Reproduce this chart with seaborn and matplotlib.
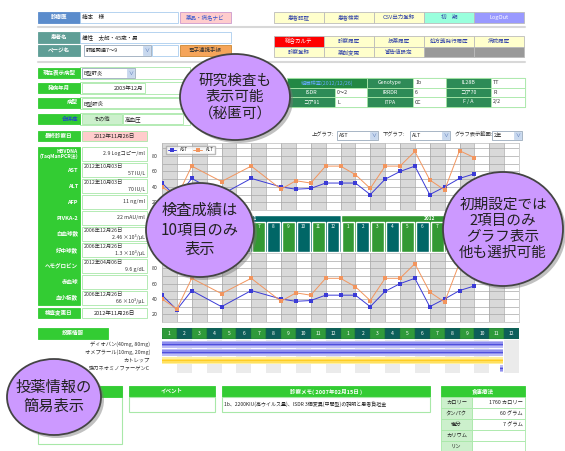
import matplotlib.pyplot as plt
import matplotlib.patches as mpatches
import pandas as pd
import seaborn as sns

# AST / ALT trend, x = month slot on the 2-year grid (Jan 2011 = 0)
month_idx = [0, 1, 2, 4, 6, 8, 9, 10, 11, 12, 13, 14, 15, 16, 17, 18, 19, 20, 21]
ast = [45, 26, 51, 30, 51, 40, 37, 38, 45, 45, 45, 30, 50, 60, 67, 30, 40, 51, 57]
alt = [40, 27, 67, 47, 67, 37, 48, 45, 67, 67, 56, 38, 67, 67, 86, 49, 36, 87, 78]

years = ['2011', '2012']
months = ['1', '2', '3', '4', '5', '6', '7', '8', '9', '10', '11', '12']
month_labels = months + months

# medication periods (month slots)
med_names = ['ディオバン(40mg, 80mg)', 'オメプラール(10mg, 20mg)', 'カトレップ', '強力ネオミノファーゲンC']
med_start = [0, 0, 0, 22.75]
med_end = [22.9, 22.9, 22.9, 22.9]
med_kind = ['blue', 'blue', 'yellow', 'blue']

# latest lab results
lab_names = ['HBVDNA\n(TaqManPCR法)', 'AST', 'ALT', 'AFP', 'PIVKA-2', '白血球数', '好中球数',
             'ヘモグロビン', '赤血球', '血小板数']
lab_dates = ['', '2012年10月03日', '2012年10月03日', '', '', '2006年12月26日', '2006年12月26日',
             '2012年04月06日', '', '2006年12月26日']
lab_values = ['2.9 Logコピー/ml', '57 IU/L', '70 IU/L', '11 ng/ml', '22 mAU/ml', '2.46 ×10³/μL',
              '1.3 ×10³/μL', '9.6 g/dL', '', '66 ×10³/μL']

diet_items = ['カロリー', 'タンパク', '塩分', 'カリウム', 'リン']
diet_values = ['1760 カロリー', '60 グラム', '7 グラム', '', '']

gene_rows = [
    [('組織検査(2012/12/26)', 'h', 80), ('Genotype', 'g', 46), ('1b', 'w', 33), ('IL28B', 'g', 45), ('TT', 'w', 34)],
    [('ISDR', 'g', 48), ('0～2', 'w', 32), ('IRRDR', 'g', 46), ('6', 'w', 33), ('コア70', 'g', 45), ('R', 'w', 34)],
    [('コア91', 'g', 48), ('L', 'w', 32), ('ITPA', 'g', 46), ('CC', 'w', 33), ('F / A', 'g', 45), ('2/2', 'w', 34)],
]

sns.set_theme(style='white')
plt.rcParams['font.family'] = ['Noto Sans CJK JP', 'DejaVu Sans']

W, H = 565, 451
fig = plt.figure(figsize=(W / 100, H / 100), dpi=100)
fig.patch.set_facecolor('white')

GREEN = '#33cc33'
LGREEN = '#a8e8a8'
TEAL = '#006666'
MGREEN = '#339933'


def px_rect(x0, y0, x1, y1):
    return [x0 / W, 1 - y1 / H, (x1 - x0) / W, (y1 - y0) / H]


def cell(ax, x, y, w, h, fc, ec=None, text='', color='#222222', size=4.0, ha='center', weight='normal', lw=0.6):
    ax.add_patch(mpatches.Rectangle((x, y), w, h, facecolor=fc, edgecolor=ec or fc, linewidth=lw))
    if text:
        tx = {'center': x + w / 2, 'left': x + 2, 'right': x + w - 2}[ha]
        ax.text(tx, y + h / 2, text, ha=ha, va='center', fontsize=size, color=color, fontweight=weight)


def dropdown(ax, x, y, w, h, text):
    cell(ax, x, y, w, h, 'white', '#99aabb', text, ha='left', size=3.8)
    cell(ax, x + w - 8, y + 1, 7, h - 2, '#c8d8ee', '#c8d8ee', '∨', color='#4466aa', size=3.5)


ui = fig.add_axes([0, 0, 1, 1])
ui.set_xlim(0, W)
ui.set_ylim(H, 0)
ui.axis('off')

# header rows
cell(ui, 38, 12, 42, 11, '#5b8ccc', text='診療医', color='white', weight='bold')
cell(ui, 80, 12, 98, 11, 'white', '#aaccee', '楠本　様', ha='left')
cell(ui, 180, 12, 51, 11, '#ffcccc', '#cc99cc', '薬品・病名ナビ', color='#3355cc')
top_btns = [('患者認証', '#ffffcc', '#3344aa'), ('患者検索', '#ffffcc', '#3344aa'),
            ('CSV出力登録', '#ffffcc', '#3344aa'), ('初　期', '#99ffdd', '#3344aa'),
            ('LogOut', '#9999ff', 'white')]
for k, (t, fc, tc) in enumerate(top_btns):
    cell(ui, 274 + 50 * k, 12, 50, 11, fc, '#bbbbbb', t, color=tc)
ui.plot([38, 525], [27, 27], color='#d8d8d8', lw=1.5)

cell(ui, 38, 32, 42, 11, '#5f9e96', text='患者名', color='white', weight='bold')
cell(ui, 80, 32, 151, 11, 'white', '#aaccee', '横性　太郎・45歳・男', ha='left')
cell(ui, 38, 45, 42, 11, '#5f9e96', text='ページ名', color='white', weight='bold')
dropdown(ui, 84, 45, 67, 11, '肝臓関連7～9')
cell(ui, 152, 45, 26, 11, 'white', '#aaccee')
cell(ui, 180, 45, 51, 11, '#f5a55a', '#cc8833', '電子連携手帳', color='#333333')

row2 = [('総合カルテ', '#ff0000', 'white'), ('診察履歴', '#ffffcc', '#3344aa'), ('投薬履歴', '#ffffcc', '#3344aa'),
        ('処方箋発行履歴', '#ffffcc', '#3344aa'), ('病院履歴', '#ffffcc', '#3344aa')]
row3 = [('診察登録', '#ffffcc', '#3344aa'), ('薬剤変更', '#ffffcc', '#3344aa'), ('警告値設定', '#ffffcc', '#3344aa'),
        ('', '#999999', 'white'), ('', '#999999', 'white')]
for k, (t, fc, tc) in enumerate(row2):
    cell(ui, 274 + 50 * k, 36, 50, 11, fc, '#bbbbbb', t, color=tc)
for k, (t, fc, tc) in enumerate(row3):
    cell(ui, 274 + 50 * k, 47, 50, 10, fc, '#bbbbbb', t, color=tc)
ui.plot([38, 525], [62, 62], color='#d8d8d8', lw=1.5)

# patient info rows
cell(ui, 80, 67, 110, 12, 'white', LGREEN)
cell(ui, 38, 68, 42, 10, GREEN, text='現在表示病型', color='white', weight='bold')
dropdown(ui, 82, 68, 53, 10, 'B型肝炎')
cell(ui, 80, 82, 110, 12, 'white', LGREEN)
cell(ui, 38, 83, 42, 10, GREEN, text='発病年月', color='white', weight='bold')
cell(ui, 82, 83, 63, 10, 'white', LGREEN, '2003年12月', ha='right')
cell(ui, 80, 97, 110, 12, 'white', LGREEN)
cell(ui, 38, 98, 42, 10, GREEN, text='病型', color='white', weight='bold', ha='right')
cell(ui, 82, 98, 100, 10, 'white', LGREEN, 'B型肝炎', ha='left')
cell(ui, 80, 113, 110, 12, 'white', LGREEN)
cell(ui, 38, 114, 42, 10, GREEN, text='合併症', color='#2244cc', weight='bold', ha='right')
cell(ui, 82, 114, 40, 10, '#ccf0cc', LGREEN, 'その他')
cell(ui, 123, 114, 60, 10, 'white', LGREEN, '高血圧', ha='left')
cell(ui, 38, 131, 42, 10, GREEN, text='最終診察日', color='white', weight='bold')
cell(ui, 82, 131, 65, 10, '#ffcccc', LGREEN, '2012年11月26日')

# lab result column
cell(ui, 38, 147, 42, 158, GREEN)
for i, (n, d, v) in enumerate(zip(lab_names, lab_dates, lab_values)):
    y0 = 146 + 16 * i
    ui.text(78, y0 + 8, n, ha='right', va='center', fontsize=3.6 if '\n' in n else 4.0,
            color='white', fontweight='bold', linespacing=1.0)
    cell(ui, 82, y0 + 1, 65, 14, 'white', LGREEN)
    if d:
        ui.text(84, y0 + 4.5, d, ha='left', va='center', fontsize=3.8, color='#333333')
        ui.text(145, y0 + 11.5, v, ha='right', va='center', fontsize=3.8, color='#333333')
    elif v:
        ui.text(145, y0 + 8, v, ha='right', va='center', fontsize=3.8, color='#333333')
cell(ui, 38, 308, 42, 10, GREEN, text='検査変更日', color='white', weight='bold')
cell(ui, 82, 308, 65, 10, 'white', LGREEN, '2012年11月26日')

# genetic test table
ui.add_patch(mpatches.Rectangle((287, 78), 238, 29, facecolor='white', edgecolor=LGREEN, lw=0.8))
for r, row in enumerate(gene_rows):
    x = 287
    for t, kind, w in row:
        fc = {'h': '#228844', 'g': '#2e8b57', 'w': 'white'}[kind]
        tc = {'h': '#66aaff', 'g': 'white', 'w': '#333333'}[kind]
        cell(ui, x, 78 + 9.6 * r, w, 9.6, fc, LGREEN, t, color=tc, size=3.8,
             ha='left' if kind == 'w' else 'center')
        x += w

# graph selectors
ui.text(312, 135, '上グラフ:', fontsize=3.8, va='center', color='#333333')
dropdown(ui, 337, 131, 41, 9, 'AST')
ui.text(383, 135, '下グラフ:', fontsize=3.8, va='center', color='#333333')
dropdown(ui, 410, 131, 40, 9, 'ALT')
ui.text(455, 135, 'グラフ表示範囲:', fontsize=3.8, va='center', color='#333333')
dropdown(ui, 492, 131, 30, 9, '2年')

# trend charts
trend = pd.concat([
    pd.DataFrame({'slot': month_idx, 'value': ast, 'item': 'AST'}),
    pd.DataFrame({'slot': month_idx, 'value': alt, 'item': 'ALT'}),
])
pal = {'AST': '#3b3bd6', 'ALT': '#f2955e'}


def draw_trend(ax, ylim, legend):
    for i in range(24):
        if i % 2 == 0:
            ax.axvspan(i, i + 1, color='#d9d9d9', lw=0, zorder=0)
    sns.lineplot(data=trend, x='slot', y='value', hue='item', palette=pal, marker='s',
                 markersize=2.4, markeredgewidth=0, linewidth=0.7, ax=ax, legend=legend, zorder=3)
    ax.set_xlim(0, 24)
    ax.set_ylim(*ylim)
    ax.set_xticks(range(25))
    ax.set_xticklabels([])
    ax.set_yticks([20, 40, 60, 80])
    ax.set_yticks(range(10, 100, 10), minor=True)
    ax.set_axisbelow(True)
    ax.grid(True, which='both', color='#a8a8a8', lw=0.5)
    ax.tick_params(which='both', length=0, labelsize=3.8, pad=3, colors='#333333')
    ax.set_xlabel('')
    ax.set_ylabel('')
    ax.set_facecolor('white')
    for s in ax.spines.values():
        s.set_color('#bbbbbb')
        s.set_linewidth(0.5)
    if legend:
        sns.move_legend(ax, 'upper left', bbox_to_anchor=(0.005, 0.99), ncol=2, title=None,
                        fontsize=3.2, frameon=True, fancybox=False, borderpad=0.35,
                        handlelength=2.0, columnspacing=1.2, edgecolor='#aaaaaa')


up = fig.add_axes(px_rect(162, 143, 519, 210))
draw_trend(up, (13, 97), True)
lo = fig.add_axes(px_rect(162, 253, 519, 322))
draw_trend(lo, (13.75, 100), False)

# month header between the charts
mid = fig.add_axes(px_rect(162, 215, 519, 252))
mid.set_xlim(0, 24)
mid.set_ylim(1, 0)
mid.axis('off')
year_colors = [TEAL, MGREEN]
for k, yr in enumerate(years):
    mid.bar(k * 12, 1, width=12, bottom=0, align='edge', color=year_colors[k])
    mid.text(k * 12 + 6, 0.09, yr, ha='center', va='center', fontsize=3.4, color='white', fontweight='bold')
head = 7 / 37
for i, m in enumerate(month_labels):
    mid.bar(i + 0.07, 1 - head, width=0.86, bottom=head, align='edge', color=[MGREEN, TEAL][i % 2])
    if 6 <= i <= 18:
        # the other months sit under the two callout bubbles
        mid.text(i + 0.5, head + 0.11, m, ha='center', va='center', fontsize=3.4, color='white')

# month strip for medication
mb = fig.add_axes(px_rect(162, 328, 519, 339))
mb.set_xlim(0, 24)
mb.set_ylim(0, 1)
mb.axis('off')
for i, m in enumerate(month_labels):
    mb.bar(i, 1, width=1, align='edge', color=['#2f9a3a', '#0d5f5a'][i % 2], edgecolor='#1a6a40', lw=0.3)
    mb.text(i + 0.5, 0.5, m, ha='center', va='center', fontsize=3.6, color='white')
cell(ui, 38, 328, 70, 11, GREEN, text='投薬情報', color='white', weight='bold')

med = fig.add_axes(px_rect(162, 340, 519, 373))
med.set_xlim(0, 24)
med.set_ylim(3.55, -0.55)
med.axis('off')
for i in range(24):
    med.axvspan(i, i + 1, color='#ebebeb' if i % 2 else 'white', lw=0, zorder=0)
med_cols = {'blue': ['#bcbcf6', '#8e8eee', '#4f4fdc'], 'yellow': ['#fff0a0', '#ffe060', '#ffcc22']}
for r, (n, s, e, kind) in enumerate(zip(med_names, med_start, med_end, med_kind)):
    c = med_cols[kind]
    med.barh([r], [e - s], left=[s], height=0.8, color=c[0], edgecolor='none', zorder=3)
    med.barh([r], [e - s], left=[s], height=0.5, color=c[1], edgecolor='none', zorder=4)
    med.barh([r], [e - s], left=[s], height=0.22, color=c[2], edgecolor='none', zorder=5)
    med.text(-0.8, r, n, ha='right', va='center', fontsize=3.8, color='#333333', clip_on=False)

# lower panels
cell(ui, 38, 386, 84, 58, 'white', LGREEN, lw=0.8)
cell(ui, 38, 386, 84, 11, GREEN)
cell(ui, 129, 386, 86, 11, GREEN, text='イベント', color='white', weight='bold')
cell(ui, 129, 397, 86, 15, 'white', LGREEN, lw=0.8)
cell(ui, 222, 386, 208, 11, GREEN, text='診察メモ( 2007年02月15日 )', color='white', weight='bold')
cell(ui, 222, 397, 208, 15, 'white', LGREEN, '1b、2200KIU(高ウイルス量)、ISDR 3個変異(中間型)の説明と患者負担金',
     ha='left', size=3.6, lw=0.8)
cell(ui, 441, 386, 84, 11, GREEN, text='食事療法', color='white', weight='bold')
for r, (it, v) in enumerate(zip(diet_items, diet_values)):
    cell(ui, 441, 397 + 11 * r, 31, 11, '#ccf0cc', LGREEN, it, size=3.8)
    cell(ui, 472, 397 + 11 * r, 53, 11, 'white', LGREEN, v, ha='right', size=3.8)

# callout bubbles on top
top = fig.add_axes([0, 0, 1, 1])
top.set_zorder(10)
top.set_xlim(0, W)
top.set_ylim(H, 0)
top.axis('off')
top.patch.set_alpha(0)
bubbles = [
    ((235, 97), 110, 86, '研究検査も\n表示可能\n（秘匿可）', 10.5),
    ((200, 230), 108, 94, '検査成績は\n10項目のみ\n表示', 11),
    ((503, 229), 120, 114, '初期設定では\n2項目のみ\nグラフ表示\n他も選択可能', 10.5),
    ((54, 397), 94, 76, '投薬情報の\n簡易表示', 11),
]
for (cx, cy), w, h, t, fs in bubbles:
    top.add_patch(mpatches.Ellipse((cx + 3, cy + 3), w, h, facecolor='#777777', alpha=0.45, lw=0))
    top.add_patch(mpatches.Ellipse((cx, cy), w, h, facecolor='#cc99ff', edgecolor='#444444', lw=1.3))
    top.text(cx, cy, t, ha='center', va='center', fontsize=fs, color='#222222', linespacing=1.2)

fig.savefig('out.png', dpi=100)
